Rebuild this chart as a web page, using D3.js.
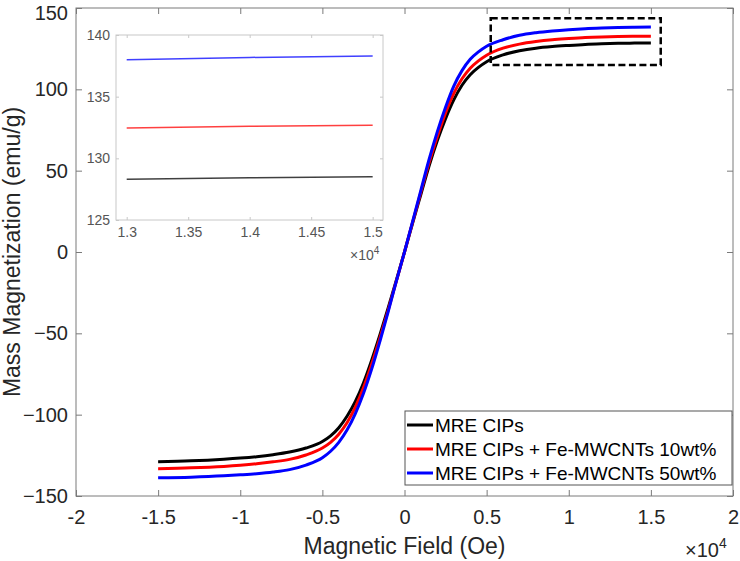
<!DOCTYPE html>
<html>
<head>
<meta charset="utf-8">
<script src="https://cdn.jsdelivr.net/npm/d3@7"></script>
<style>
    body { margin: 0; background: #ffffff; }
    svg { display: block; font-family: "Liberation Sans", Arial, sans-serif; }
</style>
</head>
<body>
<svg id="mag-chart"></svg>
<script>
/*--------------------------------------------------------------------------------
----- MAGNETIZATION CURVES (mass magnetization vs applied magnetic field)
--------------------------------------------------------------------------------*/

// Applied magnetic field values (Oe)
const field_values = [-15000, -13000, -11000, -10000, -9000, -8000, -7000, -6000, -5000, -4500,
    -4000, -3500, -3000, -2500, -2000, -1500, -1000, -500, 0, 500, 1000, 1500, 2000, 2500,
    3000, 3500, 4000, 4500, 5000, 6000, 7000, 8000, 9000, 10000, 11000, 12000, 13000, 14000, 15000];

// Mass magnetization for each sample (emu/g)
const cips_values = [-128.9, -128.4, -127.4, -126.7, -125.8, -124.6, -123.0, -120.5, -116.5, -113,
    -108, -101, -92, -80.5, -66.5, -51, -34.5, -17.5, 0, 18, 35.5, 53, 68.5, 82,
    93.5, 102.5, 109, 113.5, 117, 121.2, 123.7, 125.3, 126.3, 127.0, 127.6, 128.0, 128.3, 128.42, 128.5];
const cnt10_values = [-133.2, -132.7, -131.8, -131.1, -130.2, -129.0, -127.5, -124.8, -120.5, -117,
    -112, -105, -95.5, -83.5, -69, -53, -36, -18, 0, 18.5, 37, 55, 71, 85.5,
    97.5, 106.5, 113, 117.5, 121, 125.3, 127.8, 129.4, 130.5, 131.2, 131.8, 132.2, 132.46, 132.6, 132.68];
const cnt50_values = [-138.8, -138.4, -137.6, -137.0, -136.3, -135.3, -133.8, -131.0, -126.5, -122.5,
    -117, -109.5, -99.5, -87, -72, -55, -37, -18, 0, 19, 38, 57, 74, 89,
    102, 111.5, 118.5, 123, 126.5, 130.5, 133.2, 134.8, 135.9, 136.7, 137.3, 137.7, 138.0, 138.18, 138.3];

// Series names and colours
const series_names = ["MRE CIPs", "MRE CIPs + Fe-MWCNTs 10wt%", "MRE CIPs + Fe-MWCNTs 50wt%"];
const series_colors = ["#000000", "#ff0000", "#0000ff"];

// Tick values of the main chart and of the zoomed inset
const x_ticks = [-20000, -15000, -10000, -5000, 0, 5000, 10000, 15000, 20000];
const y_ticks = [-150, -100, -50, 0, 50, 100, 150];
const inset_x_ticks = [13000, 13500, 14000, 14500, 15000];
const inset_y_ticks = [125, 130, 135, 140];

// Zoomed region marked with the dashed box [x0, x1] and [y0, y1]
const zoom_box_x = [5250, 15600];
const zoom_box_y = [115, 143.7];

// Build one dataset per sample
const all_series = [cips_values, cnt10_values, cnt50_values].map((vals, i) => ({
    name: series_names[i],
    color: series_colors[i],
    points: field_values.map((h, j) => ({ h: h, m: vals[j] }))
}));

// Chart dimensions
const width = 740, height = 561;
const margins = { top: 8, right: 7, bottom: 65, left: 76 };
const chart_width = width - margins.left - margins.right;
const chart_height = height - margins.top - margins.bottom;

const svg = d3.select("#mag-chart")
    .attr("width", width)
    .attr("height", height);

// Scales of the main chart
const x_scale = d3.scaleLinear().domain([-20000, 20000]).range([0, chart_width]);
const y_scale = d3.scaleLinear().domain([-150, 150]).range([chart_height, 0]);

const chart = svg.append("g")
    .attr("transform", `translate(${margins.left}, ${margins.top})`);

// Axes (ticks pointing inside, as in MATLAB)
const axis_color = "#7a7a7a";
const label_color = "#262626";

function style_axis(g, font_size, color) {
    g.select(".domain").remove();
    g.selectAll("line").attr("stroke", axis_color);
    g.selectAll("text").attr("fill", color).style("font-size", font_size + "px");
}

chart.append("g")
    .attr("transform", `translate(0, ${chart_height})`)
    .call(d3.axisBottom(x_scale).tickValues(x_ticks).tickSizeInner(-6).tickSizeOuter(0).tickPadding(14)
        .tickFormat(d => (d / 10000).toString()))
    .call(g => style_axis(g, 20, label_color));

chart.append("g")
    .call(d3.axisTop(x_scale).tickValues(x_ticks).tickSizeInner(-6).tickSizeOuter(0).tickFormat(""))
    .call(g => style_axis(g, 20, label_color));

chart.append("g")
    .call(d3.axisLeft(y_scale).tickValues(y_ticks).tickSizeInner(-6).tickSizeOuter(0).tickPadding(8))
    .call(g => style_axis(g, 20, label_color))
    // the top label sits a little lower so it stays inside the picture
    .call(g => g.selectAll(".tick text").filter(d => d === 150).attr("dy", "0.55em"));

chart.append("g")
    .attr("transform", `translate(${chart_width}, 0)`)
    .call(d3.axisRight(y_scale).tickValues(y_ticks).tickSizeInner(-6).tickSizeOuter(0).tickFormat(""))
    .call(g => style_axis(g, 20, label_color));

// Axes box
chart.append("rect")
    .attr("width", chart_width)
    .attr("height", chart_height)
    .attr("fill", "none")
    .attr("stroke", axis_color)
    .attr("stroke-width", 1);

// Axis titles
svg.append("text")
    .attr("x", margins.left + x_scale(0))
    .attr("y", 554)
    .attr("text-anchor", "middle")
    .attr("fill", label_color)
    .style("font-size", "23px")
    .text("Magnetic Field (Oe)");

svg.append("text")
    .attr("transform", `translate(20, ${margins.top + y_scale(0)}) rotate(-90)`)
    .attr("text-anchor", "middle")
    .attr("fill", label_color)
    .style("font-size", "23px")
    .text("Mass Magnetization (emu/g)");

// Exponent label of the x axis
const x_exp = svg.append("text")
    .attr("x", 685)
    .attr("y", 557)
    .attr("fill", label_color)
    .style("font-size", "20px");
x_exp.append("tspan").text("\u00d710");
x_exp.append("tspan").attr("dy", -9).style("font-size", "14px").text("4");

// Draw the curves of the main chart
const line_gen = d3.line()
    .x(d => x_scale(d.h))
    .y(d => y_scale(d.m))
    .curve(d3.curveMonotoneX);

chart.selectAll(".curve")
    .data(all_series)
    .enter()
    .append("path")
    .attr("class", "curve")
    .attr("d", d => line_gen(d.points))
    .attr("fill", "none")
    .attr("stroke", d => d.color)
    .attr("stroke-width", 3)
    .attr("stroke-linejoin", "round");

// Dashed box marking the zoomed region
chart.append("rect")
    .attr("x", x_scale(zoom_box_x[0]))
    .attr("y", y_scale(zoom_box_y[1]))
    .attr("width", x_scale(zoom_box_x[1]) - x_scale(zoom_box_x[0]))
    .attr("height", y_scale(zoom_box_y[0]) - y_scale(zoom_box_y[1]))
    .attr("fill", "none")
    .attr("stroke", "#000000")
    .attr("stroke-width", 2.5)
    .attr("stroke-dasharray", "7,3.5");

// Legend
const legend = svg.append("g").attr("transform", "translate(405, 411)");
legend.append("rect")
    .attr("width", 327)
    .attr("height", 74)
    .attr("fill", "#ffffff")
    .attr("stroke", "#555555")
    .attr("stroke-width", 1);

const legend_rows = legend.selectAll(".legend-row")
    .data(all_series)
    .enter()
    .append("g")
    .attr("class", "legend-row")
    .attr("transform", (d, i) => `translate(0, ${14 + i * 24})`);

legend_rows.append("line")
    .attr("x1", 2).attr("x2", 28)
    .attr("stroke", d => d.color)
    .attr("stroke-width", 3);

legend_rows.append("text")
    .attr("x", 30)
    .attr("dy", "0.35em")
    .attr("fill", "#000000")
    .style("font-size", "19px")
    .text(d => d.name);

/*--------------------------------------------------------------------------------
----- INSET (zoom on the saturation region)
--------------------------------------------------------------------------------*/
const inset_left = 116, inset_top = 35, inset_width = 267, inset_height = 185;
const inset_color = "#c8c8c8";
const inset_text = "#555555";

const inset_x_scale = d3.scaleLinear().domain([12913, 15084]).range([0, inset_width]);
const inset_y_scale = d3.scaleLinear().domain([125, 140]).range([inset_height, 0]);

const inset = svg.append("g")
    .attr("transform", `translate(${inset_left}, ${inset_top})`);

inset.append("rect")
    .attr("width", inset_width)
    .attr("height", inset_height)
    .attr("fill", "#ffffff");

function style_inset_axis(g) {
    g.select(".domain").remove();
    g.selectAll("line").attr("stroke", inset_color);
    g.selectAll("text").attr("fill", inset_text).style("font-size", "14px");
}

inset.append("g")
    .attr("transform", `translate(0, ${inset_height})`)
    .call(d3.axisBottom(inset_x_scale).tickValues(inset_x_ticks).tickSizeInner(-3).tickSizeOuter(0).tickPadding(7)
        .tickFormat(d => (d / 10000).toString()))
    .call(style_inset_axis);

inset.append("g")
    .call(d3.axisTop(inset_x_scale).tickValues(inset_x_ticks).tickSizeInner(-3).tickSizeOuter(0).tickFormat(""))
    .call(style_inset_axis);

inset.append("g")
    .call(d3.axisLeft(inset_y_scale).tickValues(inset_y_ticks).tickSizeInner(-3).tickSizeOuter(0).tickPadding(6))
    .call(style_inset_axis);

inset.append("g")
    .attr("transform", `translate(${inset_width}, 0)`)
    .call(d3.axisRight(inset_y_scale).tickValues(inset_y_ticks).tickSizeInner(-3).tickSizeOuter(0).tickFormat(""))
    .call(style_inset_axis);

inset.append("rect")
    .attr("width", inset_width)
    .attr("height", inset_height)
    .attr("fill", "none")
    .attr("stroke", inset_color)
    .attr("stroke-width", 1);

// Exponent label of the inset x axis
const inset_exp = inset.append("text")
    .attr("x", inset_width - 33)
    .attr("y", inset_height + 40)
    .attr("fill", inset_text)
    .style("font-size", "14px");
inset_exp.append("tspan").text("\u00d710");
inset_exp.append("tspan").attr("dy", -6).style("font-size", "10px").text("4");

// Draw the zoomed curves (only points inside the inset range)
const inset_line = d3.line()
    .x(d => inset_x_scale(d.h))
    .y(d => inset_y_scale(d.m))
    .curve(d3.curveMonotoneX);

inset.selectAll(".inset-curve")
    .data(all_series)
    .enter()
    .append("path")
    .attr("class", "inset-curve")
    .attr("d", d => inset_line(d.points.filter(p => p.h >= 13000)))
    .attr("fill", "none")
    .attr("stroke", d => d.color)
    .attr("stroke-opacity", 0.75)
    .attr("stroke-width", 1.5);
</script>
</body>
</html>
